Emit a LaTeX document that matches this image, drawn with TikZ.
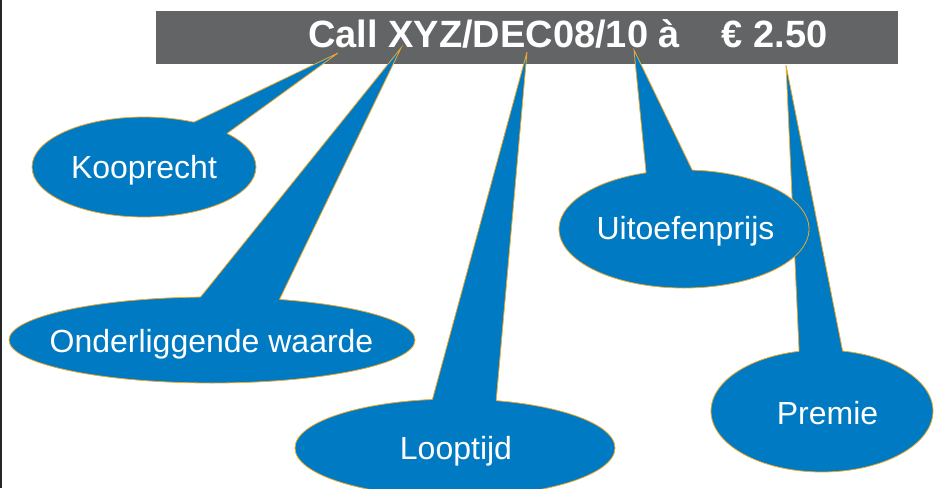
\documentclass[tikz,border=0pt]{standalone}
\usepackage{fontspec}
\setmainfont{Liberation Sans}
\usetikzlibrary{shapes.geometric}
\definecolor{cfill}{RGB}{0,122,194}
\definecolor{cborder}{RGB}{240,168,40}
\definecolor{bargray}{RGB}{99,100,102}
\begin{document}
\begin{tikzpicture}[x=1pt,y=-1pt,
  bubble/.style={ellipse, fill=cfill, draw=cborder, line width=0.8pt, inner sep=0pt, outer sep=0pt},
  wedgefill/.style={fill=cfill},
  wedgeline/.style={draw=cborder, line width=0.8pt, line join=miter},
  label/.style={anchor=base, text=white, inner sep=0pt, font=\fontsize{32}{36}\selectfont},
  title/.style={anchor=base west, text=white, inner sep=0pt, font=\fontsize{38}{42}\selectfont\bfseries}]
\useasboundingbox (0,0) rectangle (935,488);
\fill[white] (0,0) rectangle (935,488);
\fill[black!85] (0,0) rectangle (1.6,488);
% title bar
\node[fill=bargray, inner sep=0pt, minimum width=742pt, minimum height=53pt, anchor=north west] (bar) at (156,11) {};
% pointer tips
\coordinate (tK) at (338,53);
\coordinate (tO) at (401,48);
\coordinate (tL) at (527,52);
\coordinate (tU) at (634,50);
\coordinate (tP) at (786,65);
% Kooprecht
\node[bubble, minimum width=224pt, minimum height=100pt] (kE) at (144,167) {};
\fill[wedgefill] (tK) -- (kE.42.6) -- (kE.center) -- (kE.22) -- cycle;
\draw[wedgeline] (kE.42.6) -- (tK) -- (kE.22);
\node[label] (koop) at (144,178) {Kooprecht};
% Onderliggende waarde
\node[bubble, minimum width=406pt, minimum height=86pt] (oE) at (212,340) {};
\fill[wedgefill] (tO) -- (oE.105.6) -- (oE.center) -- (oE.31.5) -- cycle;
\draw[wedgeline] (oE.105.6) -- (tO) -- (oE.31.5);
\node[label] (onder) at (211.5,352) {Onderliggende waarde};
% Looptijd
\node[bubble, minimum width=320pt, minimum height=98pt] (lE) at (455,448) {};
\fill[wedgefill] (tL) -- (lE.115.6) -- (lE.center) -- (lE.49.7) -- cycle;
\draw[wedgeline] (lE.115.6) -- (tL) -- (lE.49.7);
\node[label] (loop) at (456,459) {Looptijd};
% Premie
\node[bubble, minimum width=222pt, minimum height=122pt] (pE) at (822,411) {};
\fill[wedgefill] (tP) -- (pE.111.6) -- (pE.center) -- (pE.71) -- cycle;
\draw[wedgeline] (pE.111.6) -- (tP) -- (pE.71);
\node[label] (prem) at (827.5,424) {Premie};
% Uitoefenprijs
\node[bubble, minimum width=250pt, minimum height=118pt] (uE) at (684,229) {};
\fill[wedgefill] (tU) -- (uE.124.4) -- (uE.center) -- (uE.82.5) -- cycle;
\draw[wedgeline] (uE.124.4) -- (tU) -- (uE.82.5);
\node[label] (uit) at (685.5,239) {Uitoefenprijs};
% title text
\node[title] (ttl) at (308,47) {Call XYZ/DEC08/10 à\hspace{42pt}€ 2.50};
\end{tikzpicture}
\end{document}
